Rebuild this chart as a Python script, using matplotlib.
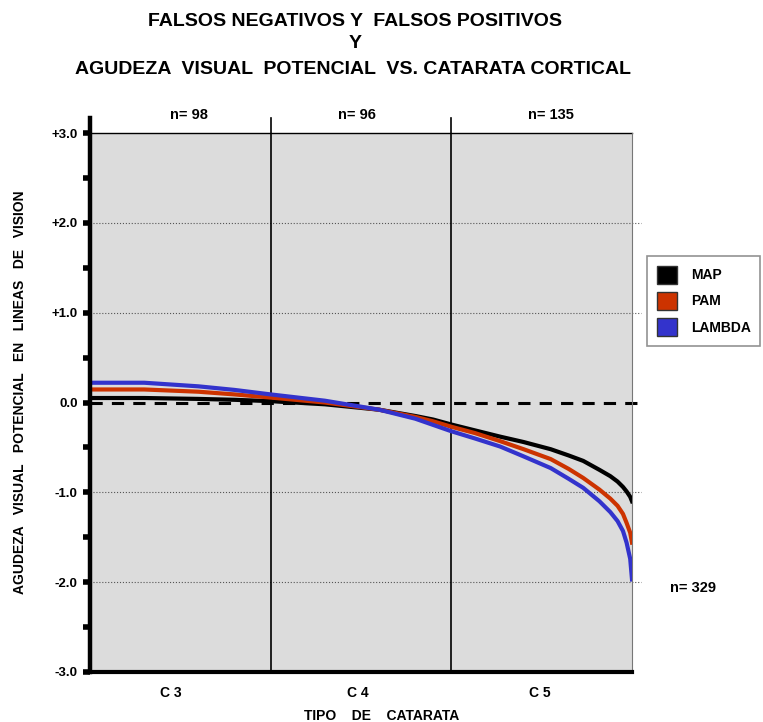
import matplotlib.pyplot as plt
from matplotlib.patches import Patch

plt.rcParams['font.family'] = ['Liberation Sans', 'DejaVu Sans']
plt.rcParams['font.weight'] = 'bold'

# datos
x = [0, 0.3, 0.6, 0.8, 1.0, 1.3, 1.6, 1.8, 1.9, 2.0, 2.13, 2.27, 2.4, 2.55, 2.65, 2.73,
     2.82, 2.88, 2.92, 2.95, 2.97, 2.99, 3.0]
map_v = [0.05, 0.05, 0.04, 0.03, 0.015, -0.02, -0.08, -0.15, -0.19, -0.245, -0.31, -0.38, -0.44,
         -0.52, -0.59, -0.65, -0.75, -0.82, -0.88, -0.94, -0.99, -1.05, -1.10]
pam_v = [0.145, 0.145, 0.12, 0.09, 0.055, 0.0, -0.08, -0.16, -0.21, -0.27, -0.34, -0.43, -0.52,
         -0.63, -0.74, -0.84, -0.97, -1.07, -1.15, -1.24, -1.34, -1.45, -1.56]
lambda_v = [0.22, 0.22, 0.18, 0.14, 0.09, 0.02, -0.08, -0.18, -0.25, -0.32, -0.40, -0.49, -0.60,
            -0.73, -0.85, -0.95, -1.10, -1.22, -1.32, -1.43, -1.56, -1.74, -1.97]

categorias = ['C 3', 'C 4', 'C 5']
n_grupos = ['n= 98', 'n= 96', 'n= 135']
yticks = [3, 2, 1, 0, -1, -2, -3]
ylabels = ['+3.0', '+2.0', '+1.0', '0.0', '-1.0', '-2.0', '-3.0']

fig = plt.figure(figsize=(7.63, 7.22), dpi=100)
ax = fig.add_axes([90/763, 50/722, 542/763, 539/722])
ax.set_facecolor('#dcdcdc')
ax.set_xlim(0, 3)
ax.set_ylim(-3, 3)

# lineas de referencia
for g in [2, 1, -1, -2]:
    ax.plot([0, 3.05], [g, g], color='#555555', lw=0.8, ls=':', clip_on=False)
ax.plot([0, 3.05], [0, 0], color='black', lw=2.2, ls=(0, (4, 3)), clip_on=False, zorder=2)

# separadores de grupos
for d in [1, 2]:
    ax.plot([d, d], [-3, 3.17], color='black', lw=1.2, clip_on=False)

for vals, col in [(map_v, 'black'), (pam_v, '#cc3300'), (lambda_v, '#3333cc')]:
    ax.plot(x, vals, color=col, lw=3, zorder=3, solid_joinstyle='round')

# ejes
for s in ['top', 'right', 'left']:
    ax.spines[s].set_visible(False)
ax.spines['bottom'].set_linewidth(3)
ax.plot([0, 3], [3, 3], color='black', lw=1, clip_on=False)
ax.plot([3, 3], [-3, 3], color='#777777', lw=0.8, clip_on=False)
ax.plot([0, 0], [-3, 3.17], color='black', lw=3.2, clip_on=False, zorder=5)

ax.set_yticks(yticks)
ax.set_yticklabels(ylabels, fontsize=9.5, fontweight='bold')
ax.set_yticks([2.5, 1.5, 0.5, -0.5, -1.5, -2.5], minor=True)
ax.tick_params(axis='y', which='both', length=5, width=4, direction='out', pad=4)
ax.set_xticks([0.45, 1.48, 2.49])
ax.set_xticklabels(categorias, fontsize=10, fontweight='bold')
ax.tick_params(axis='x', length=0, pad=10)

fig.text(382/763, 1 - 716/722, 'TIPO    DE    CATARATA', ha='center', va='center',
         fontsize=10, fontweight='bold')
fig.text(20/763, 1 - 392/722, 'AGUDEZA   VISUAL   POTENCIAL   EN   LINEAS   DE   VISION',
         rotation=90, ha='center', va='center', fontsize=10, fontweight='bold')

for xc, t in zip([0.55, 1.48, 2.55], n_grupos):
    ax.text(xc, 3.2, t, ha='center', va='center', fontsize=10.5, fontweight='bold')

fig.text(693/763, 1 - 588/722, 'n= 329', ha='center', va='center', fontsize=10.5, fontweight='bold')

fig.text(355/763, 1 - 22/722, 'FALSOS NEGATIVOS Y  FALSOS POSITIVOS', ha='center', va='center',
         fontsize=14, fontweight='bold')
fig.text(355/763, 1 - 44/722, 'Y', ha='center', va='center', fontsize=14, fontweight='bold')
fig.text(353/763, 1 - 69/722, 'AGUDEZA  VISUAL  POTENCIAL  VS. CATARATA CORTICAL', ha='center',
         va='center', fontsize=14, fontweight='bold')

handles = [Patch(facecolor='black', edgecolor='#333333', label='MAP'),
           Patch(facecolor='#cc3300', edgecolor='#333333', label='PAM'),
           Patch(facecolor='#3333cc', edgecolor='#333333', label='LAMBDA')]
leg = fig.legend(handles=handles, loc='upper left', bbox_to_anchor=(647/763, 1 - 256/722),
                 fontsize=10, frameon=True, fancybox=False, edgecolor='#777777',
                 handlelength=1.45, handleheight=1.6, labelspacing=0.6, handletextpad=1.0,
                 borderpad=0.7, borderaxespad=0)
leg.get_frame().set_linewidth(1.2)

fig.savefig('out.png', dpi=100)
